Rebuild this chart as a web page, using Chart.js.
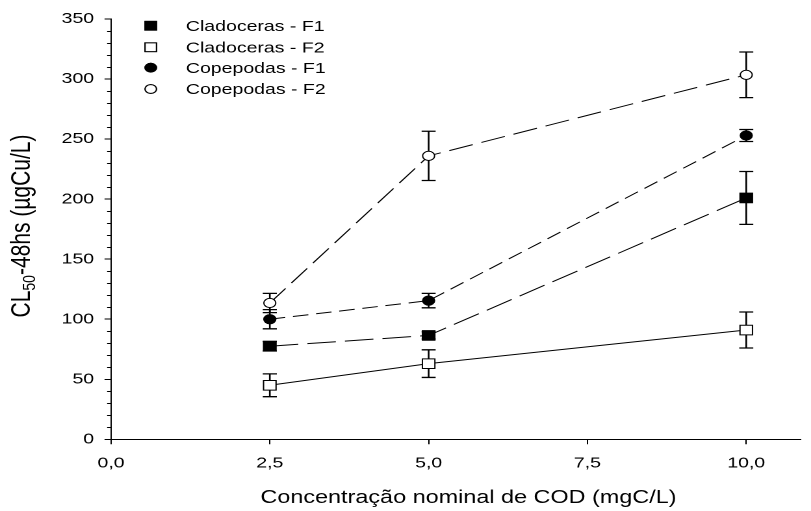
<!DOCTYPE html>
<html>
<head>
<meta charset="utf-8">
<script src="https://cdn.jsdelivr.net/npm/chart.js@4/dist/chart.umd.min.js"></script>
<style>
	html, body { margin: 0; padding: 0; background: #fff; overflow: hidden; }
	#frame { width: 811px; height: 511px; overflow: hidden; }
	/* the reference is stretched horizontally, so draw narrow and widen it */
	#wrap { width: 624px; height: 511px; transform: scaleX(1.2997); transform-origin: 0 0; }
</style>
</head>
<body>
<div id="frame"><div id="wrap"><canvas id="chart" width="624" height="511"></canvas></div></div>
<script>
// COD concentration (mgC/L)
const xValues = [2.5, 5, 10];
const xTicks = [0, 2.5, 5, 7.5, 10];
const yTicks = [0, 50, 100, 150, 200, 250, 300, 350];

// CL50-48hs (ugCu/L) and error bars
const cladocerasF1 = [77.5, 86.5, 201];
const cladocerasF1Err = [4, 3, 22];
const cladocerasF2 = [45, 63, 91];
const cladocerasF2Err = [9.5, 11.5, 15];
const copepodasF1 = [100, 115.5, 253];
const copepodasF1Err = [8, 6, 5];
const copepodasF2 = [113.5, 236, 303.5];
const copepodasF2Err = [8, 20.5, 19];

const FONT = '"Liberation Sans", Arial, sans-serif';

const toPoints = (ys) => xValues.map((x, i) => ({ x: x, y: ys[i] }));

const series = [
	{ label: 'Cladoceras - F1', data: cladocerasF1, err: cladocerasF1Err, style: 'rect', fill: '#000', dash: [22, 7], r: 6.8 },
	{ label: 'Cladoceras - F2', data: cladocerasF2, err: cladocerasF2Err, style: 'rect', fill: '#fff', dash: [], r: 6.8 },
	{ label: 'Copepodas - F1', data: copepodasF1, err: copepodasF1Err, style: 'circle', fill: '#000', dash: [12, 6], r: 4.6 },
	{ label: 'Copepodas - F2', data: copepodasF2, err: copepodasF2Err, style: 'circle', fill: '#fff', dash: [19, 7], r: 4.6 },
];

// Error bars, drawn under the markers
const errorBars = {
	id: 'errorBars',
	beforeDatasetsDraw(chart) {
		const { ctx, scales: { x, y } } = chart;
		ctx.save();
		ctx.strokeStyle = '#000';
		ctx.lineWidth = 1.3;
		series.forEach((s) => {
			s.data.forEach((v, i) => {
				const px = x.getPixelForValue(xValues[i]);
				const top = y.getPixelForValue(v + s.err[i]);
				const bot = y.getPixelForValue(v - s.err[i]);
				const cap = 5.4;
				ctx.beginPath();
				ctx.moveTo(px, top); ctx.lineTo(px, bot);
				ctx.moveTo(px - cap, top); ctx.lineTo(px + cap, top);
				ctx.moveTo(px - cap, bot); ctx.lineTo(px + cap, bot);
				ctx.stroke();
			});
		});
		ctx.restore();
	}
};

// Minor ticks on the y axis, legend and axis titles
const decorations = {
	id: 'decorations',
	afterDraw(chart) {
		const { ctx, scales: { x, y } } = chart;
		ctx.save();
		ctx.strokeStyle = '#000';
		ctx.lineWidth = 1;
		const ax = x.left;
		for (let v = 10; v < 350; v += 10) {
			if (v % 50 === 0) continue;
			const py = Math.round(y.getPixelForValue(v)) + 0.5;
			ctx.beginPath();
			ctx.moveTo(ax - 3, py); ctx.lineTo(ax, py);
			ctx.stroke();
		}

		// legend
		const rows = [25.7, 47.3, 67.7, 89];
		ctx.font = '15px ' + FONT;
		ctx.textBaseline = 'middle';
		ctx.fillStyle = '#000';
		series.forEach((s, i) => {
			Chart.helpers.drawPoint(ctx, {
				pointStyle: s.style,
				radius: s.style === 'rect' ? 6.2 : 4.4,
				borderWidth: 1,
				rotation: 0
			}, 116, rows[i]);
			ctx.fillStyle = s.fill;
			ctx.strokeStyle = '#000';
			ctx.fill();
			ctx.stroke();
			ctx.fillStyle = '#000';
			ctx.fillText(s.label, 143, rows[i] + 1);
		});

		// x title
		ctx.textAlign = 'center';
		ctx.font = '18px ' + FONT;
		ctx.fillText('Concentração nominal de COD (mgC/L)', (x.left + 581.5 + 50) / 2 + 2, 498);

		// y title with subscript
		ctx.translate(17, 226);
		ctx.rotate(-Math.PI / 2);
		ctx.textAlign = 'left';
		const big = '21px ' + FONT, small = '14px ' + FONT;
		ctx.font = big; const w1 = ctx.measureText('CL').width;
		const w3 = ctx.measureText('-48hs (µgCu/L)').width;
		ctx.font = small; const w2 = ctx.measureText('50').width;
		let sx = -(w1 + w2 + w3) / 2;
		ctx.font = big; ctx.fillText('CL', sx, 0); sx += w1;
		ctx.font = small; ctx.fillText('50', sx, 6); sx += w2;
		ctx.font = big; ctx.fillText('-48hs (µgCu/L)', sx, 0);
		ctx.restore();
	}
};

new Chart(document.getElementById('chart'), {
	type: 'line',
	data: {
		datasets: series.map((s) => ({
			label: s.label,
			data: toPoints(s.data),
			borderColor: '#000',
			borderWidth: 1,
			borderDash: s.dash,
			tension: 0,
			fill: false,
			pointStyle: s.style,
			pointRadius: s.r,
			pointHoverRadius: s.r,
			pointBackgroundColor: s.fill,
			pointBorderColor: '#000',
			pointBorderWidth: 1,
		}))
	},
	options: {
		responsive: false,
		devicePixelRatio: 2,
		animation: false,
		layout: { padding: { top: 19, left: 0, right: 0, bottom: 0 } },
		plugins: { legend: { display: false }, tooltip: { enabled: false } },
		scales: {
			x: {
				type: 'linear',
				min: 0,
				max: 10.86,
				afterBuildTicks: (scale) => { scale.ticks = xTicks.map((v) => ({ value: v })); },
				afterFit: (scale) => { scale.height = 71.7; },
				grid: { drawOnChartArea: false, drawTicks: true, tickLength: 5, tickColor: '#000', tickWidth: 1 },
				border: { display: true, color: '#000', width: 1 },
				ticks: {
					color: '#000',
					font: { family: FONT, size: 15 },
					padding: 10,
					maxRotation: 0,
					callback: (v) => v.toFixed(1).replace('.', ',')
				}
			},
			y: {
				min: 0,
				max: 350,
				afterBuildTicks: (scale) => { scale.ticks = yTicks.map((v) => ({ value: v })); },
				afterFit: (scale) => { scale.width = 85.4; },
				grid: { drawOnChartArea: false, drawTicks: true, tickLength: 5, tickColor: '#000', tickWidth: 1 },
				border: { display: true, color: '#000', width: 1 },
				ticks: {
					color: '#000',
					font: { family: FONT, size: 15 },
					padding: 8,
					callback: (v) => String(v)
				}
			}
		}
	},
	plugins: [errorBars, decorations]
});
</script>
</body>
</html>
